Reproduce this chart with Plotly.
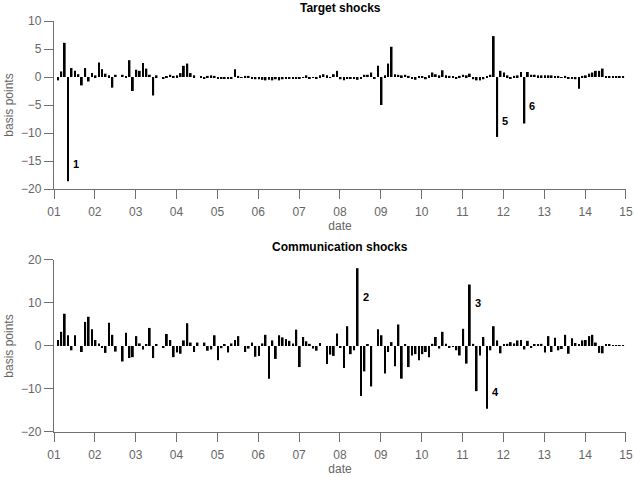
import pandas as pd
import plotly.graph_objects as go

# Monthly observations, Jan 2001 .. Dec 2014 (basis points)
months = pd.date_range("2001-01-01", "2014-12-01", freq="MS")

target_shocks = [
    0, -0.6, 1.0, 6.1, -18.6, 1.6, 1.1, 0.5, -1.5, 1.6, -0.8, 0.7,      # 2001
    0.3, 2.6, 1.4, 0.6, 0.3, -1.9, 0.4, 0, 0.4, 0.2, 3.0, -2.5,          # 2002
    1.3, 1.1, 2.5, 1.5, 0.4, -3.3, 0.3, 0, -0.3, 0.1, 0.4, 0.2,          # 2003
    0.3, 0.7, 2.0, 2.4, 0.7, 0.3, 0, 0.1, -0.2, 0.2, 0.3, 0.2,           # 2004
    -0.2, -0.3, -0.3, -0.2, -0.2, 1.4, 0.2, -0.1, 0.2, 0.2, -0.2, -0.4,  # 2005
    -0.4, -0.5, -0.6, -0.5, -0.6, -0.4, -0.6, -0.4, -0.3, -0.2, -0.3, -0.2,  # 2006
    -0.3, -0.1, 0.3, -0.2, -0.1, -0.2, 0.3, 0.5, 0.3, -0.1, 0.5, 1.1,    # 2007
    -0.4, -0.6, -0.3, -0.2, -0.2, -0.5, -0.3, 0.4, 0.4, 0.8, -0.2, 2.0,  # 2008
    -5.0, 0.3, 2.4, 5.4, 0.5, 0.4, 0.3, 0.4, 0.2, -0.3, -0.5, 0.2,       # 2009
    0.1, -0.4, 0.3, 0.8, 0.5, 0.3, 1.2, 0.3, 0.2, 0.2, -0.2, 0.2,        # 2010
    0.4, 0.3, 0.6, -0.4, -0.6, -0.6, -0.4, 0.2, 0.4, 7.3, -10.7, 1.1,    # 2011
    0.8, 0.3, -0.3, 0.2, 0.3, 0.9, -8.3, 0.9, 0.4, 0.4, 0.3, 0.3,        # 2012
    0.3, 0.3, 0.3, 0.2, 0.2, -0.1, 0.2, -0.2, -0.3, -0.4, -2.1, 0.2,     # 2013
    0.3, 0.6, 0.8, 1.1, 1.1, 1.5, 0.2, 0.1, 0.1, 0.1, 0.1, 0.1,          # 2014
]

communication_shocks = [
    0, 1.4, 3.3, 7.5, 2.5, -1.0, 2.5, 0, -1.4, 5.6, 6.8, 3.9,            # 2001
    1.4, 0.6, -0.3, -1.6, 5.4, 2.6, -1.3, 0, -3.6, 3.1, -2.8, -2.6,      # 2002
    2.3, 0.6, -0.8, 0.4, 4.2, -2.8, 0.4, 0, -0.4, 2.8, 1.4, -2.6,        # 2003
    -1.5, -1.8, 1.3, 5.3, 0.8, -1.4, 0.8, 0, 0.8, -1.1, -0.8, 2.5,       # 2004
    -3.3, -0.5, 0.3, -1.5, 0.6, 1.4, 2.3, 0, -1.4, -0.6, 0.8, -2.5,      # 2005
    -2.3, 0.6, 2.6, -7.6, 1.3, -3.0, 2.5, 2.0, 1.6, 1.2, 0.6, 3.8,       # 2006
    -4.9, 2.1, 1.1, 0.5, -0.6, -1.1, 0.7, 0, -4.2, -2.0, -2.3, 2.9,      # 2007
    -0.3, -5.1, 4.6, -1.9, -1.0, 18.1, -11.6, -5.9, 0.3, -9.4, 0, 3.9,   # 2008
    2.5, -6.4, -1.4, 0.9, -4.7, 5.0, -7.6, 0.3, -4.9, -2.2, -1.9, -3.3,  # 2009
    -1.9, -1.4, -2.6, 0.5, 2.1, -0.6, 3.3, 0.5, -0.3, -0.2, -1.0, -2.2,  # 2010
    4.0, -4.1, 14.3, 0.5, -10.5, -2.2, 2.1, -14.6, -1.0, 4.6, 1.3, -1.7, # 2011
    0.3, 0.5, 0.9, 0.6, 1.3, 1.4, -0.8, 1.2, -0.3, 0.3, 0.4, 0.5,        # 2012
    -1.5, 2.3, -1.4, 1.9, -1.0, -0.7, 2.6, -1.8, 1.8, 0.7, 0.4, 1.3,     # 2013
    1.4, 2.3, 2.6, 0.8, -1.6, -1.7, 0.3, 0.3, 0.2, 0.2, 0.2, 0.1,        # 2014
]

# labelled episodes: (panel, label, month, label height in bp)
labels = [
    ("target", "1", "2001-05", -15.5),
    ("target", "5", "2011-11", -7.9),
    ("target", "6", "2012-07", -5.2),
    ("comm", "2", "2008-06", 11.4),
    ("comm", "3", "2011-03", 10.0),
    ("comm", "4", "2011-08", -10.7),
]

panel_titles = ["Target shocks", "Communication shocks"]
x_tick0 = "2001-01-01"
x_end = "2015-01-01 06:00"

x = months + pd.Timedelta(days=6)

FONT = "Liberation Sans, Arial, Helvetica, sans-serif"
GREY = "#666666"
LINE = "#6f6f6f"

fig = go.Figure()
fig.add_trace(go.Bar(x=x, y=target_shocks, marker=dict(color="black", line=dict(width=0)),
                     xaxis="x", yaxis="y", showlegend=False, hoverinfo="skip"))
fig.add_trace(go.Bar(x=x, y=communication_shocks, marker=dict(color="black", line=dict(width=0)),
                     xaxis="x2", yaxis="y2", showlegend=False, hoverinfo="skip"))

common_x = dict(
    type="date", range=[x_tick0, x_end], tick0=x_tick0, dtick="M12", tickformat="%y",
    showline=True, linecolor=LINE, linewidth=1.3, ticks="outside", ticklen=9,
    tickcolor=LINE, tickwidth=1.3, showgrid=False, zeroline=False, automargin=False,
    ticklabelstandoff=2,
    tickfont=dict(family=FONT, size=12, color=GREY),
    title=dict(text="date", font=dict(family=FONT, size=12, color=GREY), standoff=2),
)
common_y = dict(
    showline=True, linecolor=LINE, linewidth=1.3, ticks="outside", ticklen=9,
    tickcolor=LINE, tickwidth=1.3, showgrid=False, zeroline=False, automargin=False,
    tickfont=dict(family=FONT, size=12, color=GREY),
    title=dict(text="basis points", font=dict(family=FONT, size=12, color=GREY), standoff=4),
)

fig.update_layout(
    width=634, height=477,
    margin=dict(l=54, r=8, t=21, b=45),
    paper_bgcolor="white", plot_bgcolor="white",
    bargap=0.42,
    xaxis=dict(common_x, anchor="y", domain=[0, 1]),
    yaxis=dict(common_y, anchor="x", domain=[0.5912, 1], range=[-20, 10], dtick=5, tick0=0),
    xaxis2=dict(common_x, anchor="y2", domain=[0, 1]),
    yaxis2=dict(common_y, anchor="x2", domain=[0, 0.4185], range=[-20, 20], dtick=10, tick0=0),
)

for t, ydom in zip(panel_titles, [1.0, 0.4185]):
    fig.add_annotation(text="<b>%s</b>" % t, x=0.5, y=ydom, xref="paper", yref="paper",
                       xanchor="center", yanchor="bottom", yshift=4, showarrow=False,
                       font=dict(family=FONT, size=12, color="black"))

for panel, lab, month, yv in labels:
    d = pd.Timestamp(month + "-01") + pd.Timedelta(days=6)
    ax = "x" if panel == "target" else "x2"
    ay = "y" if panel == "target" else "y2"
    fig.add_annotation(text="<b>%s</b>" % lab, x=d, y=yv, xref=ax, yref=ay,
                       xanchor="left", yanchor="middle", xshift=3, showarrow=False,
                       font=dict(family=FONT, size=11, color="black"))

fig.write_html("out.html", config={"displayModeBar": False},
               post_script="document.body.style.margin='0';document.body.style.padding='0';")
